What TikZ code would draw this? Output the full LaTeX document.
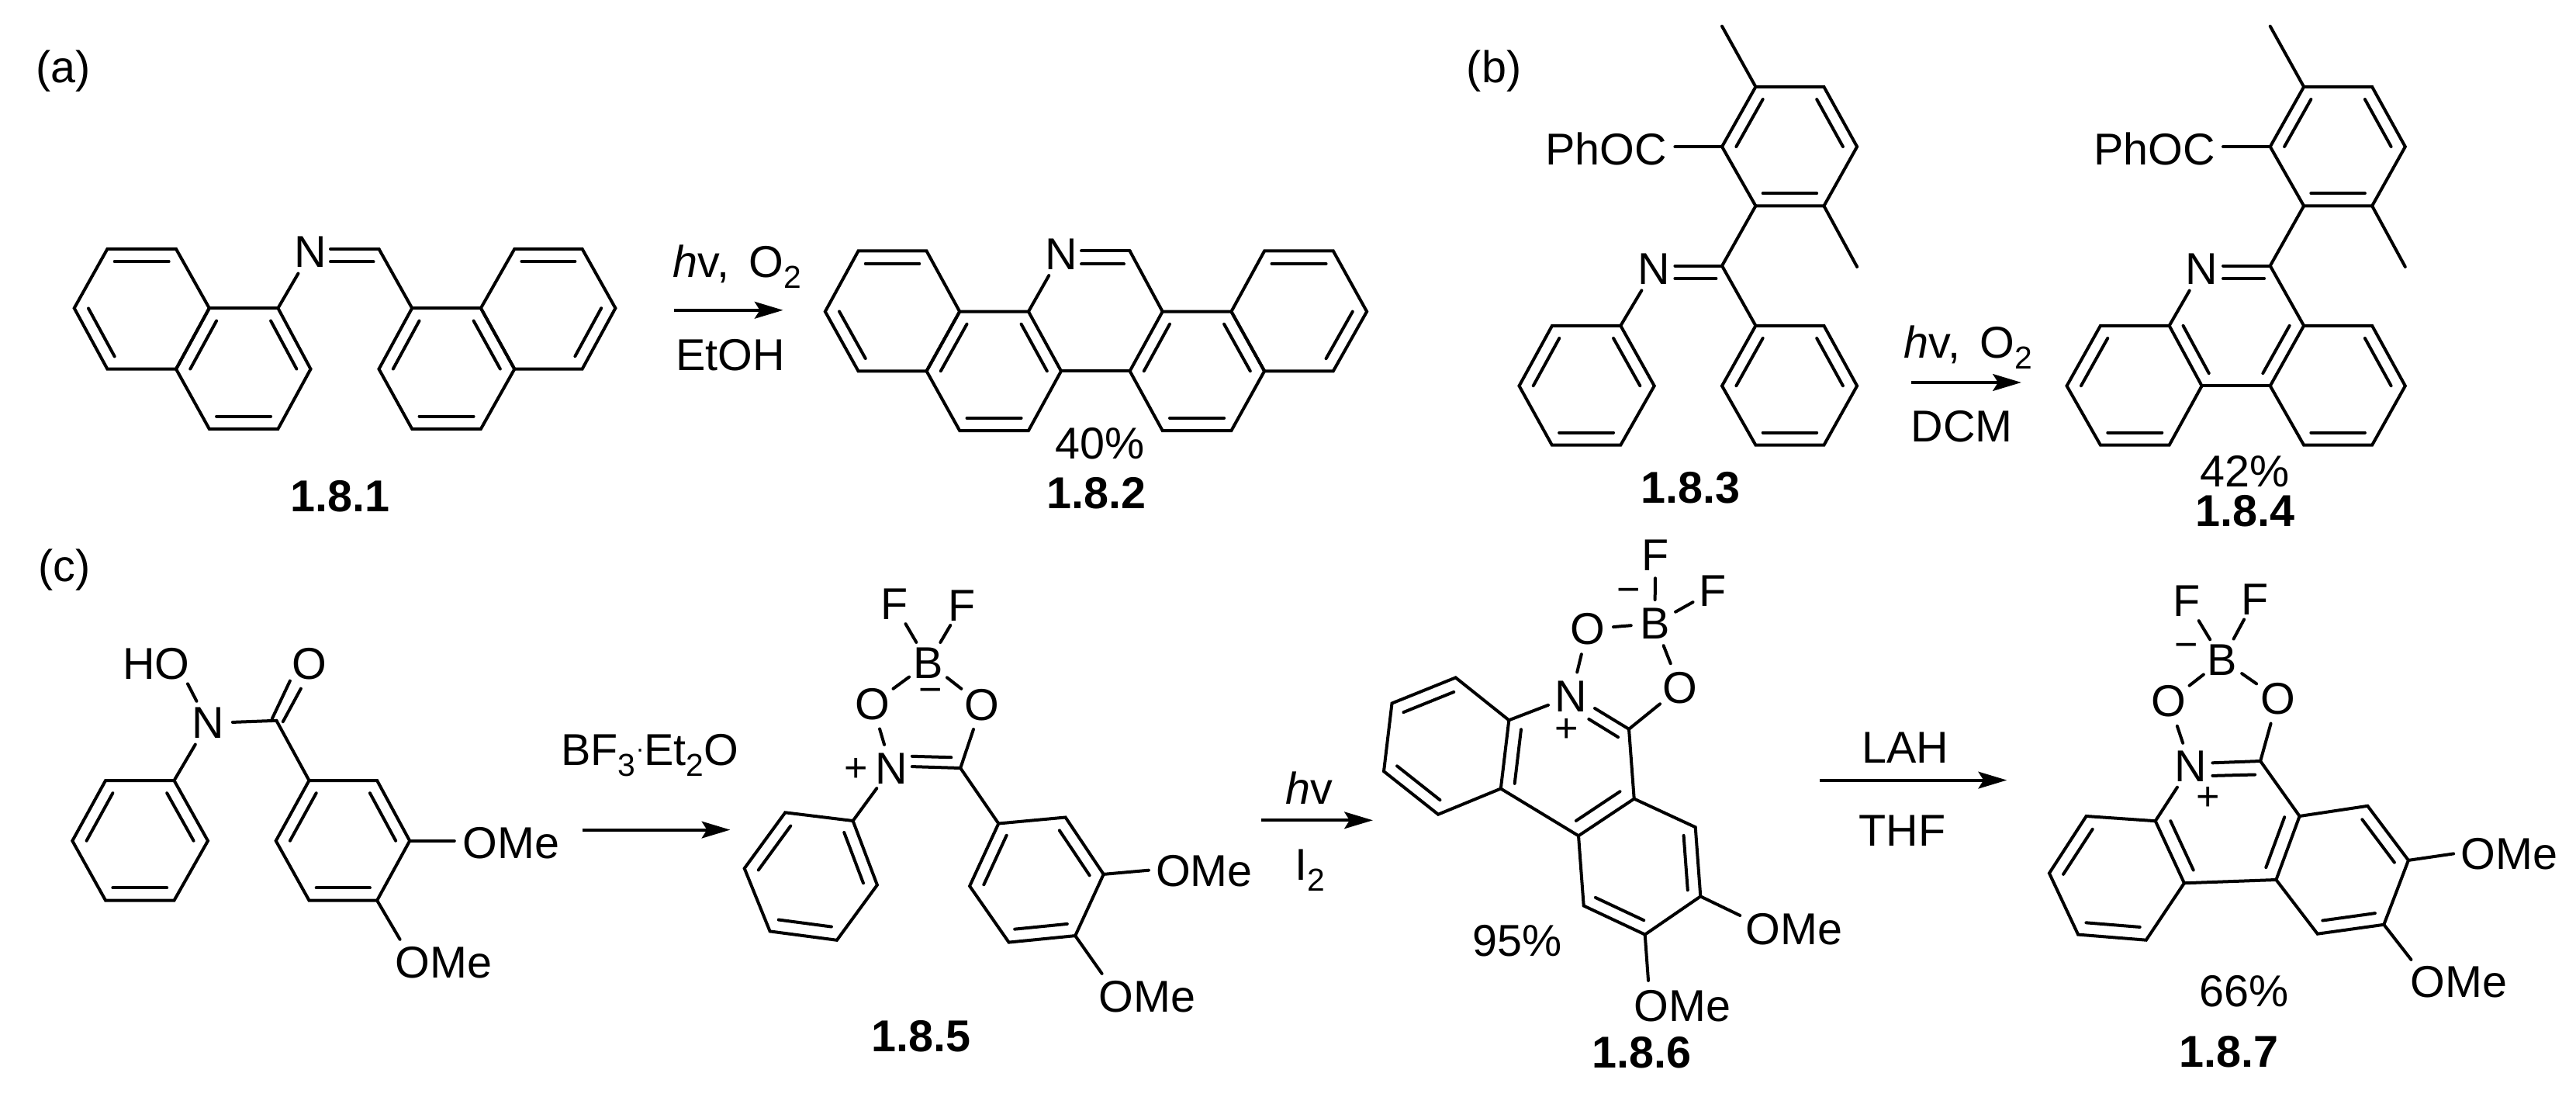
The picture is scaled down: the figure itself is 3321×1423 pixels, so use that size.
\documentclass[tikz,border=0pt]{standalone}
\usepackage{fontspec}
\setmainfont{Liberation Sans}
\usetikzlibrary{calc,arrows.meta}
\newcommand{\chemsub}[1]{\raisebox{-0.24em}{\fontsize{9.8}{11}\selectfont #1}}
\newcommand{\pts}[1]{\foreach \n/\xx/\yy in {#1} {\coordinate (\n) at (\xx,\yy);}}
\newcommand{\hexr}[7]{\draw[bondln] (#2)--(#3)--(#4)--(#5)--(#6)--(#7)--cycle; \coordinate (#1) at ($(#2)!.5!(#5)$);}
\newcommand{\bd}[2]{\draw[bondln] (#1) -- (#2);}
\newcommand{\ib}[3]{\draw[bondln] ($(#1)!.21!(#3)$) -- ($(#2)!.21!(#3)$);}
\tikzset{
  bondln/.style={line width=.96pt,line cap=round,line join=miter},
  atom/.style={circle,inner sep=.4pt,font=\fontsize{13.8}{15}\selectfont},
  txt/.style={inner sep=0pt,font=\fontsize{13.8}{15}\selectfont},
  cmpd/.style={inner sep=0pt,font=\fontsize{13.8}{15}\selectfont\bfseries},
  chg/.style={inner sep=0pt,font=\fontsize{12.5}{13}\selectfont},
  rxn/.style={line width=1pt,-{Stealth[length=8.8pt,width=5.2pt,inset=1.6pt]}},
}
\begin{document}
\begin{tikzpicture}[x=.24pt,y=-.24pt]
\useasboundingbox (0,0) rectangle (3321,1423);
\fill[white] (0,0) rectangle (3321,1423);

% ---------- panel labels
\node[txt] (la) at (81.6,92) {(a)};
\node[txt] (lb) at (1926,92) {(b)};
\node[txt] (lc) at (82.8,734.5) {(c)};

% ---------- 1.8.1
\pts{Aa1/138.4/320.9,Aa2/227/320.9,Aa3/269.8/397.2,Aa4/227/475.7,Aa5/138.4/475.7,Aa6/95.7/397.2,
     Ab2/358.4/397.2,Ab3/400.5/475.7,Ab4/358.4/552.9,Ab5/269.8/552.9,
     Ac1/531.2/397.2,Ac2/619.9/397.2,Ac3/663.3/475.7,Ac4/619.9/552.9,Ac5/531.2/552.9,Ac6/488.5/475.7,
     Ad1/663.3/320.9,Ad2/750.6/320.9,Ad3/793.4/397.2,Ad4/750.6/475.7,
     Ae/488.5/320.9,Aeu/426/320.9,Ael/426/337.4,Aem/481.5/337.4}
\hexr{Ar1}{Aa1}{Aa2}{Aa3}{Aa4}{Aa5}{Aa6}
\hexr{Ar2}{Aa3}{Ab2}{Ab3}{Ab4}{Ab5}{Aa4}
\hexr{Ar3}{Ac1}{Ac2}{Ac3}{Ac4}{Ac5}{Ac6}
\hexr{Ar4}{Ac2}{Ad1}{Ad2}{Ad3}{Ad4}{Ac3}
\ib{Aa1}{Aa2}{Ar1}\ib{Aa5}{Aa6}{Ar1}
\ib{Aa3}{Aa4}{Ar2}\ib{Ab2}{Ab3}{Ar2}\ib{Ab4}{Ab5}{Ar2}
\ib{Ac1}{Ac6}{Ar3}\ib{Ac2}{Ac3}{Ar3}\ib{Ac4}{Ac5}{Ar3}
\ib{Ad1}{Ad2}{Ar4}\ib{Ad3}{Ad4}{Ar4}
\node[atom] (AN) at (400.5,325) {N};
\bd{Ab2}{AN}\bd{Ae}{Ac1}\bd{Aeu}{Ae}\bd{Ael}{Aem}
\node[cmpd] (A181) at (438.8,639.6) {1.8.1};
\coordinate (Ax1) at (868.6,399.8);\coordinate (Ax2) at (1009.6,399.8);
\draw[rxn] (Ax1) -- (Ax2);
\node[txt,anchor=base west] (Ahv) at (867,357.8) {\textit{h}v,\ \,O\chemsub{2}};
\node[txt] (Aet) at (941.5,457.5) {EtOH};

% ---------- 1.8.2
\pts{Ba1/1106.5/323.5,Ba2/1194.5/323.5,Ba3/1237.2/401.6,Ba4/1194.5/478.3,Ba5/1106.5/478.3,Ba6/1063.8/401.6,
     Bb2/1325.9/401.6,Bb3/1368/478.3,Bb4/1325.9/555.1,Bb5/1237.2/555.1,
     Bc1/1498.7/401.6,Bc2/1587.4/401.6,Bc3/1630.1/478.3,Bc4/1587.4/555.1,Bc5/1498.7/555.1,Bc6/1456.6/478.3,
     Bd1/1630.1/323.5,Bd2/1718.8/323.5,Bd3/1762.1/401.6,Bd4/1718.8/478.3,
     Be/1456.6/323.5,Beu/1394.1/323.5,Bel/1394.1/340.4,Bem/1449/340.4}
\hexr{Br1}{Ba1}{Ba2}{Ba3}{Ba4}{Ba5}{Ba6}
\hexr{Br2}{Ba3}{Bb2}{Bb3}{Bb4}{Bb5}{Ba4}
\hexr{Br3}{Bc1}{Bc2}{Bc3}{Bc4}{Bc5}{Bc6}
\hexr{Br4}{Bc2}{Bd1}{Bd2}{Bd3}{Bd4}{Bc3}
\ib{Ba1}{Ba2}{Br1}\ib{Ba5}{Ba6}{Br1}
\ib{Ba3}{Ba4}{Br2}\ib{Bb2}{Bb3}{Br2}\ib{Bb4}{Bb5}{Br2}
\ib{Bc1}{Bc6}{Br3}\ib{Bc2}{Bc3}{Br3}\ib{Bc4}{Bc5}{Br3}
\ib{Bd1}{Bd2}{Br4}\ib{Bd3}{Bd4}{Br4}
\node[atom] (BN) at (1368,327.4) {N};
\bd{Bb2}{BN}\bd{Be}{Bc1}\bd{Beu}{Be}\bd{Bel}{Bem}\bd{Bb3}{Bc6}
\node[txt] (Byd) at (1417.7,571.6) {40\%};
\node[cmpd] (B182) at (1413.3,635.3) {1.8.2};

% ---------- 1.8.3
\pts{Ct1/2263.4/111.9,Ct2/2351.4/111.9,Ct3/2394.1/189.1,Ct4/2351.4/265.4,Ct5/2263.4/265.4,Ct6/2220/189.1,
     Cm1/2220/33.8,Cm2/2394.1/343.9,Cc/2220/342.6,
     Cr1/2263.4/419.8,Cr2/2351.4/419.8,Cr3/2394.1/497.4,Cr4/2351.4/573.7,Cr5/2263.4/573.7,Cr6/2220/497.4,
     Cl1/2001/419.8,Cl2/2089.3/419.8,Cl3/2132.7/497.4,Cl4/2089.3/573.7,Cl5/2000.8/573.7,Cl6/1958.5/497.4,
     Cnu/2159.4/342.6,Cnl/2159.4/359,Cnm/2212.4/359}
\hexr{Cq1}{Ct1}{Ct2}{Ct3}{Ct4}{Ct5}{Ct6}
\hexr{Cq2}{Cr1}{Cr2}{Cr3}{Cr4}{Cr5}{Cr6}
\hexr{Cq3}{Cl1}{Cl2}{Cl3}{Cl4}{Cl5}{Cl6}
\ib{Ct1}{Ct6}{Cq1}\ib{Ct2}{Ct3}{Cq1}\ib{Ct4}{Ct5}{Cq1}
\ib{Cr1}{Cr6}{Cq2}\ib{Cr2}{Cr3}{Cq2}\ib{Cr4}{Cr5}{Cq2}
\ib{Cl1}{Cl6}{Cq3}\ib{Cl2}{Cl3}{Cq3}\ib{Cl4}{Cl5}{Cq3}
\bd{Ct1}{Cm1}\bd{Ct4}{Cm2}\bd{Ct5}{Cc}\bd{Cc}{Cr1}
\node[atom] (CN) at (2132.7,347) {N};
\bd{Cl2}{CN}\bd{Cnu}{Cc}\bd{Cnl}{Cnm}
\node[txt,anchor=east] (CPh) at (2150,192) {PhOC};
\coordinate (Cpe) at (2159.4,189.1);
\bd{Cpe}{Ct6}
\node[cmpd] (C183) at (2179.8,628.8) {1.8.3};
\coordinate (Cx1) at (2463.6,493);\coordinate (Cx2) at (2605.9,493);
\draw[rxn] (Cx1) -- (Cx2);
\node[txt,anchor=base west] (Chv) at (2454,461.8) {\textit{h}v,\ \,O\chemsub{2}};
\node[txt] (Cdc) at (2529.3,549.9) {DCM};

% ---------- 1.8.4
\pts{Dt1/2970.1/111.9,Dt2/3058.1/111.9,Dt3/3100.8/189.1,Dt4/3058.1/265.4,Dt5/2970.1/265.4,Dt6/2926.7/189.1,
     Dm1/2926.7/33.8,Dm2/3100.8/343.9,Dc/2926.7/342.6,
     Dr1/2970.1/419.8,Dr2/3058.1/419.8,Dr3/3100.8/497.4,Dr4/3058.1/573.7,Dr5/2970.1/573.7,Dr6/2926.7/497.4,
     Dl1/2707.9/419.8,Dl2/2796.6/419.8,Dl3/2838.6/497.4,Dl4/2796.6/573.7,Dl5/2707.9/573.7,Dl6/2664.5/497.4,
     Dnu/2866/342.6,Dnl/2866/359,Dnm/2919/359,Dcen/2882/420}
\hexr{Dq1}{Dt1}{Dt2}{Dt3}{Dt4}{Dt5}{Dt6}
\hexr{Dq2}{Dr1}{Dr2}{Dr3}{Dr4}{Dr5}{Dr6}
\hexr{Dq3}{Dl1}{Dl2}{Dl3}{Dl4}{Dl5}{Dl6}
\ib{Dt1}{Dt6}{Dq1}\ib{Dt2}{Dt3}{Dq1}\ib{Dt4}{Dt5}{Dq1}
\ib{Dr2}{Dr3}{Dq2}\ib{Dr4}{Dr5}{Dq2}\ib{Dr1}{Dr6}{Dcen}
\ib{Dl1}{Dl6}{Dq3}\ib{Dl4}{Dl5}{Dq3}\ib{Dl2}{Dl3}{Dcen}
\bd{Dt1}{Dm1}\bd{Dt4}{Dm2}\bd{Dt5}{Dc}\bd{Dc}{Dr1}\bd{Dl3}{Dr6}
\node[atom] (DN) at (2838.6,347) {N};
\bd{Dl2}{DN}\bd{Dnu}{Dc}\bd{Dnl}{Dnm}
\node[txt,anchor=east] (DPh) at (2856.7,192) {PhOC};
\coordinate (Dpe) at (2866,189.1);
\bd{Dpe}{Dt6}
\node[txt] (Dyd) at (2894.1,607.1) {42\%};
\node[cmpd] (D184) at (2894.8,659.2) {1.8.4};

% ---------- precursor of 1.8.5
\pts{Pa1/136.1/1006,Pa2/224.5/1006,Pa3/268/1083.8,Pa4/224.5/1160.6,Pa5/136.1/1160.6,Pa6/93.3/1083.8,
     Pb1/398.5/1006,Pb2/486.1/1006,Pb3/528.2/1083.8,Pb4/486.1/1160.6,Pb5/398.5/1160.6,Pb6/355.7/1083.8,
     PC/356.4/928.8,Pho/242/881.4,Pd1/350.8/926.4,Pd2/373.9/877.6,Pd3/364.8/930.2,Pd4/387.9/887.6,
     Pme1/585.8/1083.8,Pme2/515.6/1210.8}
\hexr{Pq1}{Pa1}{Pa2}{Pa3}{Pa4}{Pa5}{Pa6}
\hexr{Pq2}{Pb1}{Pb2}{Pb3}{Pb4}{Pb5}{Pb6}
\ib{Pa2}{Pa3}{Pq1}\ib{Pa4}{Pa5}{Pq1}\ib{Pa6}{Pa1}{Pq1}
\ib{Pb1}{Pb6}{Pq2}\ib{Pb2}{Pb3}{Pq2}\ib{Pb4}{Pb5}{Pq2}
\node[atom] (PN) at (268,932.1) {N};
\node[txt,anchor=east] (PHO) at (245.5,855.4) {HO};
\node[atom] (PO) at (398.5,855.4) {O};
\bd{PN}{Pa2}\bd{PN}{PC}\bd{PN}{Pho}\bd{Pd1}{Pd2}\bd{Pd3}{Pd4}\bd{PC}{Pb1}
\bd{Pb3}{Pme1}\bd{Pb4}{Pme2}
\node[txt,anchor=west] (POa) at (596,1086.6) {OMe};
\node[txt,anchor=west] (POb) at (508.6,1240.7) {OMe};
\coordinate (Px1) at (750.6,1069.6);\coordinate (Px2) at (941.4,1069.6);
\draw[rxn] (Px1) -- (Px2);
\node[txt,anchor=west] (Pbf) at (722.5,973.8) {BF\chemsub{3}\raisebox{.18em}{\fontsize{8}{8}\selectfont·}Et\chemsub{2}O};

% ---------- 1.8.5
\pts{Ea1/1012.3/1047.3,Ea2/1099.6/1058,Ea3/1130.9/1140.7,Ea4/1078.9/1211.8,Ea5/992.6/1200.4,Ea6/959.7/1119.3,
     Eb1/1287.3/1061.5,Eb2/1373.6/1053.5,Eb3/1422.7/1126.9,Eb4/1386.2/1206.1,Eb5/1300.6/1214.6,Eb6/1250.1/1142.1,
     EC/1238.2/990,Ed1/1175.8/974.8,Ed2/1226.3/976.2,Ed3/1175.8/988.1,
     Eme1/1480.9/1121.7,Eme2/1420.6/1254.9}
\hexr{Eq1}{Ea1}{Ea2}{Ea3}{Ea4}{Ea5}{Ea6}
\hexr{Eq2}{Eb1}{Eb2}{Eb3}{Eb4}{Eb5}{Eb6}
\ib{Ea2}{Ea3}{Eq1}\ib{Ea4}{Ea5}{Eq1}\ib{Ea6}{Ea1}{Eq1}
\ib{Eb1}{Eb6}{Eq2}\ib{Eb2}{Eb3}{Eq2}\ib{Eb4}{Eb5}{Eq2}
\node[atom] (EN) at (1149.1,990.4) {N};
\node[atom] (EO1) at (1124.6,907.5) {O};
\node[atom] (EO2) at (1265.6,908.4) {O};
\node[atom] (EB) at (1196.8,854.4) {B};
\node[atom] (EF1) at (1152.6,778.6) {F};
\node[atom] (EF2) at (1240.3,780.5) {F};
\node[chg] (Em) at (1199.6,897) {−};
\node[chg] (Ep) at (1103.3,992.3) {+};
\bd{EN}{Ea2}\bd{EN}{EO1}\bd{EO1}{EB}\bd{EB}{EO2}\bd{EO2}{EC}\bd{EB}{EF1}\bd{EB}{EF2}
\bd{Ed1}{Ed2}\bd{Ed3}{EC}\bd{EC}{Eb1}\bd{Eb3}{Eme1}\bd{Eb4}{Eme2}
\node[txt,anchor=west] (EOa) at (1489.3,1123.1) {OMe};
\node[txt,anchor=west] (EOb) at (1415.7,1284.3) {OMe};
\node[cmpd] (E185) at (1187.7,1335.4) {1.8.5};
\coordinate (Ex1) at (1626.1,1057.3);\coordinate (Ex2) at (1769.9,1057.3);
\draw[rxn] (Ex1) -- (Ex2);
\node[txt] (Ehv) at (1687.9,1015.5) {\textit{h}v};
\node[txt] (Ei2) at (1689,1122) {I\chemsub{2}};

% ---------- 1.8.6
\pts{Ga1/1876.6/873.4,Ga2/1945.3/928.3,Ga3/1934.8/1016.5,Ga4/1854.1/1049.7,Ga5/1784/994.2,Ga6/1794.5/906.5,
     Gb1/2106.7/1029.6,Gb2/2185.7/1066.2,Gb3/2192.3/1155.4,Gb4/2120.7/1204.6,Gb5/2041.7/1167.5,Gb6/2035/1077.3,
     GC/2100/939.8,Gd1/2056/913,Gd2/2048.3/926.9,Gd3/2086/950.1,
     Gme1/2243.3/1180,Gme2/2125/1263.9,Gcen/2020/985}
\hexr{Gq1}{Ga1}{Ga2}{Ga3}{Ga4}{Ga5}{Ga6}
\hexr{Gq2}{Gb1}{Gb2}{Gb3}{Gb4}{Gb5}{Gb6}
\ib{Ga1}{Ga6}{Gq1}\ib{Ga4}{Ga5}{Gq1}\ib{Ga2}{Ga3}{Gcen}
\ib{Gb2}{Gb3}{Gq2}\ib{Gb4}{Gb5}{Gq2}\ib{Gb1}{Gb6}{Gcen}
\node[atom] (GN) at (2025.7,897.4) {N};
\node[atom] (GO1) at (2046.7,810.8) {O};
\node[atom] (GO2) at (2166,886.3) {O};
\node[atom] (GB) at (2133.3,803.7) {B};
\node[atom] (GF1) at (2134.3,715.7) {F};
\node[atom] (GF2) at (2208.3,761.7) {F};
\node[chg] (Gm) at (2099.3,768.4) {−};
\node[chg] (Gp) at (2019.3,941.2) {+};
\bd{GN}{Ga2}\bd{GN}{GO1}\bd{GO1}{GB}\bd{GB}{GO2}\bd{GO2}{GC}\bd{GB}{GF1}\bd{GB}{GF2}
\bd{Gd1}{GC}\bd{Gd2}{Gd3}\bd{GC}{Gb1}\bd{Ga3}{Gb6}\bd{Gb3}{Gme1}\bd{Gb4}{Gme2}
\node[txt,anchor=west] (GOa) at (2250,1197.9) {OMe};
\node[txt,anchor=west] (GOb) at (2106,1297) {OMe};
\node[txt] (Gyd) at (1955.8,1213.2) {95\%};
\node[cmpd] (G186) at (2116.7,1356.3) {1.8.6};
\coordinate (Gx1) at (2345.9,1005.6);\coordinate (Gx2) at (2587.2,1005.6);
\draw[rxn] (Gx1) -- (Gx2);
\node[txt] (Gla) at (2456,963.4) {LAH};
\node[txt] (Gth) at (2452.5,1071) {THF};

% ---------- 1.8.7
\pts{Ha1/2689.6/1052,Ha2/2778.7/1058.2,Ha3/2815.9/1138.3,Ha4/2766.8/1211.7,Ha5/2679.1/1204.6,Ha6/2641.9/1125.5,
     Hb1/2964.6/1052,Hb2/3052.3/1038.8,Hb3/3104.9/1108.9,Hb4/3073.3/1191.8,Hb5/2987.7/1203.7,Hb6/2934.4/1134,
     HC/2914.1/981,Hd1/2852.4/983.3,Hd2/2852.4/999.9,Hd3/2907.1/998.5,
     Hme1/3163.1/1100.4,Hme2/3108.4/1236.9,Hcen/2872/1058}
\hexr{Hq1}{Ha1}{Ha2}{Ha3}{Ha4}{Ha5}{Ha6}
\hexr{Hq2}{Hb1}{Hb2}{Hb3}{Hb4}{Hb5}{Hb6}
\ib{Ha1}{Ha6}{Hq1}\ib{Ha4}{Ha5}{Hq1}\ib{Ha2}{Ha3}{Hcen}
\ib{Hb2}{Hb3}{Hq2}\ib{Hb4}{Hb5}{Hq2}\ib{Hb1}{Hb6}{Hcen}
\node[atom] (HN) at (2824.3,988) {N};
\node[atom] (HO1) at (2796.2,904.2) {O};
\node[atom] (HO2) at (2936.5,900.4) {O};
\node[atom] (HB) at (2865,850.6) {B};
\node[atom] (HF1) at (2819.4,774.8) {F};
\node[atom] (HF2) at (2907.1,772.4) {F};
\node[chg] (Hm) at (2818.7,838.8) {−};
\node[chg] (Hp) at (2846.7,1029.8) {+};
\bd{HN}{Ha2}\bd{HN}{HO1}\bd{HO1}{HB}\bd{HB}{HO2}\bd{HO2}{HC}\bd{HB}{HF1}\bd{HB}{HF2}
\bd{Hd1}{HC}\bd{Hd2}{Hd3}\bd{HC}{Hb1}\bd{Ha3}{Hb6}\bd{Hb3}{Hme1}\bd{Hb4}{Hme2}
\node[txt,anchor=west] (HOa) at (3171.5,1100.9) {OMe};
\node[txt,anchor=west] (HOb) at (3107,1265.3) {OMe};
\node[txt] (Hyd) at (2893,1278.1) {66\%};
\node[cmpd] (H187) at (2873.4,1355.4) {1.8.7};
\end{tikzpicture}
\end{document}
